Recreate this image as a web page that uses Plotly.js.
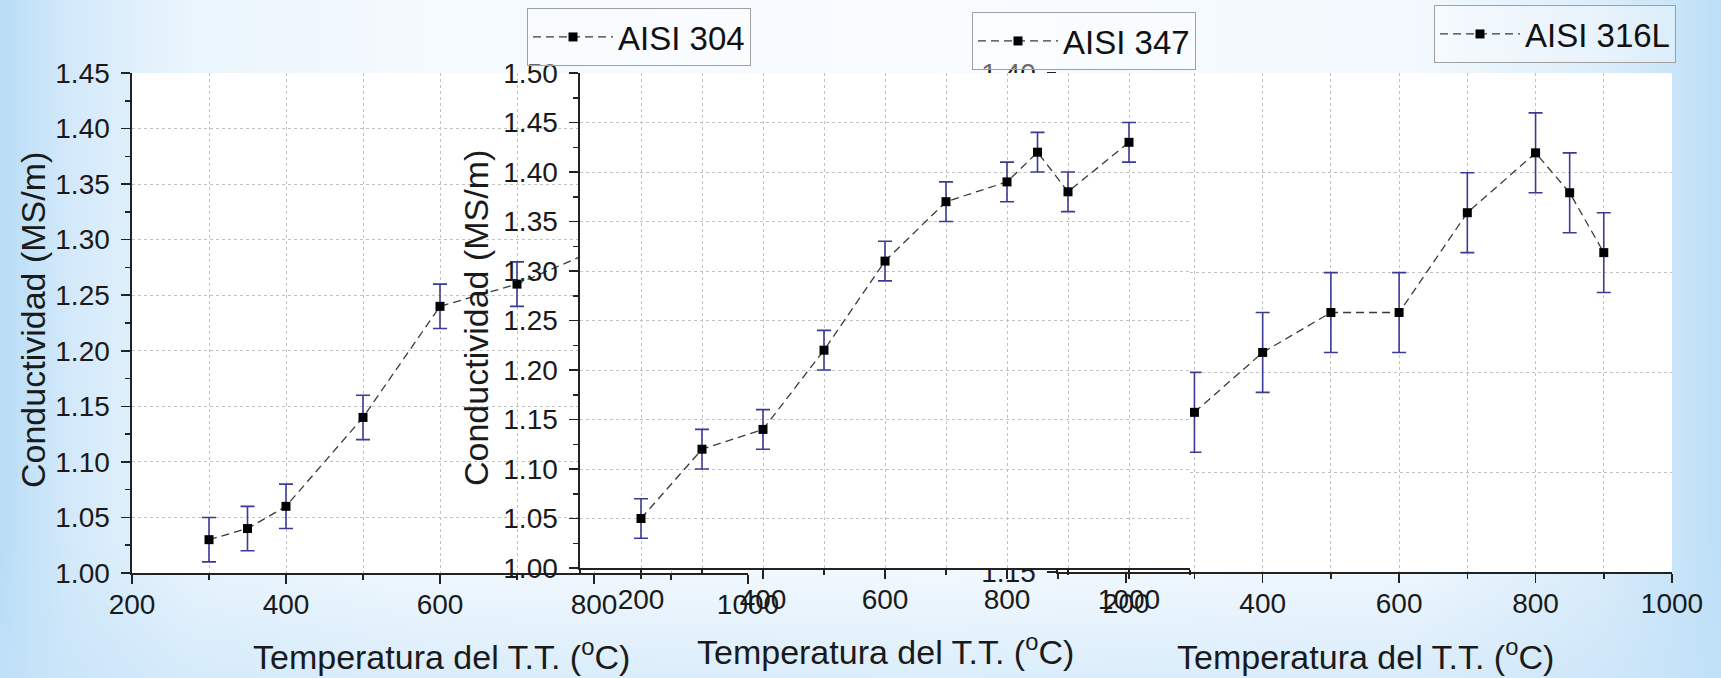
<!DOCTYPE html>
<html>
<head>
<meta charset="utf-8">
<script src="https://cdn.plot.ly/plotly-3.0.1.min.js"></script>
<style>
html,body{margin:0;padding:0;}
body{width:1721px;height:678px;overflow:hidden;
background:
 linear-gradient(180deg, rgba(255,255,255,0) 80%, rgba(196,226,248,0.55) 100%),
 linear-gradient(90deg,#b8ddf7 0%,#d3e9fa 4%,#eaf5fd 11%,#f5fafe 25%,#f8fbff 55%,#f3f9fe 82%,#dcedfa 93%,#bcdff7 100%);}
#chart{width:1721px;height:678px;}
</style>
</head>
<body>
<div id="chart"></div>
<script>
// ---- data ----
const seriesNames = ['AISI 304', 'AISI 347', 'AISI 316L'];

const temp304 = [300, 350, 400, 500, 600, 700, 800];
const cond304 = [1.03, 1.04, 1.06, 1.14, 1.24, 1.26, 1.29];
const err304  = [0.02, 0.02, 0.02, 0.02, 0.02, 0.02, 0.02];

const temp347 = [200, 300, 400, 500, 600, 700, 800, 850, 900, 1000];
const cond347 = [1.05, 1.12, 1.14, 1.22, 1.31, 1.37, 1.39, 1.42, 1.38, 1.43];
const err347  = [0.02, 0.02, 0.02, 0.02, 0.02, 0.02, 0.02, 0.02, 0.02, 0.02];

const temp316L = [300, 400, 500, 600, 700, 800, 850, 900];
const cond316L = [1.23, 1.26, 1.28, 1.28, 1.33, 1.36, 1.34, 1.31];
const err316L  = [0.02, 0.02, 0.02, 0.02, 0.02, 0.02, 0.02, 0.02];

const xTitle = 'Temperatura del T.T. (<sup>o</sup>C)';
const yTitle = 'Conductividad (MS/m)';

// ---- layout helpers ----
const W = 1721, H = 678;
const fx = px => px / W;
const fy = py => 1 - py / H;
const FONT = 'Liberation Sans, Arial, sans-serif';
const INK = '#1a1a1a';
const AX = '#222222';
const GRID = '#c2c2c2';
const ERR = '#3b3b95';
const TICKSIZE = 28;

function lineTrace(x, y, e, name, xa, ya, legend) {
  return {
    x: x, y: y, name: name, type: 'scatter', mode: 'lines+markers',
    xaxis: xa, yaxis: ya, legend: legend,
    line: {color: '#3a3a3a', width: 1.3, dash: '8px,5px'},
    marker: {symbol: 'square', size: 9, color: '#000000'},
    error_y: {type: 'data', array: e, visible: true, color: ERR, thickness: 1.6, width: 7},
    hoverinfo: 'skip'
  };
}

function mainX(p, anchor) {
  return {
    domain: [fx(p.x0), fx(p.x1)], range: p.xr, anchor: anchor,
    tick0: 200, dtick: 200, ticks: 'outside', ticklen: 9, tickwidth: 1.5, tickcolor: AX,
    minor: {dtick: 100, ticks: 'outside', ticklen: 5, tickwidth: 1.5, tickcolor: AX,
            showgrid: true, gridcolor: GRID, gridwidth: 1, griddash: '3px,3px'},
    showgrid: true, gridcolor: GRID, gridwidth: 1, griddash: '3px,3px',
    showline: true, linecolor: AX, linewidth: 1.6, zeroline: false,
    tickfont: {family: FONT, size: TICKSIZE, color: INK}, ticklabelstandoff: -3,
    fixedrange: true
  };
}
function mainY(p, anchor) {
  return {
    domain: [fy(p.y1), fy(p.y0)], range: p.yr, anchor: anchor,
    tick0: p.yr[0], dtick: 0.05, tickformat: '.2f',
    ticks: 'outside', ticklen: 9, tickwidth: 1.5, tickcolor: AX,
    minor: {dtick: 0.025, ticks: 'outside', ticklen: 5, tickwidth: 1.5, tickcolor: AX, showgrid: false},
    showgrid: true, gridcolor: GRID, gridwidth: 1, griddash: 'dot',
    showline: true, linecolor: AX, linewidth: 1.6, zeroline: false,
    tickfont: {family: FONT, size: TICKSIZE, color: INK}, ticklabelstandoff: 6,
    fixedrange: true
  };
}
function topX(p, over, anchor) {
  return {
    overlaying: over, side: 'top', anchor: anchor, range: p.xr,
    tick0: 200, dtick: 200, ticks: 'inside', ticklen: 9, tickwidth: 1.5, tickcolor: AX,
    minor: {dtick: 100, ticks: 'inside', ticklen: 5, tickwidth: 1.5, tickcolor: AX, showgrid: false},
    showticklabels: false, showgrid: false, showline: true, linecolor: AX, linewidth: 1.6,
    zeroline: false, fixedrange: true
  };
}
function rightY(p, over, anchor) {
  return {
    overlaying: over, side: 'right', anchor: anchor, range: p.yr,
    tick0: p.yr[0], dtick: 0.05, ticks: 'inside', ticklen: 9, tickwidth: 1.5, tickcolor: AX,
    minor: {dtick: 0.025, ticks: 'inside', ticklen: 5, tickwidth: 1.5, tickcolor: AX, showgrid: false},
    showticklabels: false, showgrid: false, showline: true, linecolor: AX, linewidth: 1.6,
    zeroline: false, fixedrange: true
  };
}

// panel boxes in pixels (plot areas)
const P1 = {x0: 132,  x1: 748,  y0: 73, y1: 573, xr: [200, 1000], yr: [1.00, 1.45]}; // AISI 304  -> x / y
const P3 = {x0: 1058, x1: 1672, y0: 73, y1: 572, xr: [100, 1000], yr: [1.15, 1.40]}; // AISI 316L -> x2 / y2
const P2 = {x0: 580,  x1: 1190, y0: 73, y1: 568, xr: [100, 1100], yr: [1.00, 1.50]}; // AISI 347  -> x3 / y3 (on top)

const data = [
  lineTrace(temp304, cond304, err304, seriesNames[0], 'x', 'y', 'legend'),
  lineTrace(temp316L, cond316L, err316L, seriesNames[2], 'x2', 'y2', 'legend3'),
  lineTrace(temp347, cond347, err347, seriesNames[1], 'x3', 'y3', 'legend2')
];

function legendBox(px, py) {
  return {
    x: fx(px), y: fy(py), xanchor: 'left', yanchor: 'top',
    bgcolor: 'rgba(255,255,255,0.35)', bordercolor: '#a0a0a0', borderwidth: 1,
    font: {family: FONT, size: 33, color: '#111111'}, itemwidth: 80
  };
}
function ann(text, px, py, angle) {
  return {
    text: text, xref: 'paper', yref: 'paper', x: fx(px), y: fy(py),
    xanchor: 'center', yanchor: 'middle', showarrow: false, textangle: angle || 0,
    font: {family: FONT, size: 34, color: INK}
  };
}

const layout = {
  width: W, height: H, autosize: false,
  margin: {l: 0, r: 0, t: 0, b: 0, pad: 0},
  paper_bgcolor: 'rgba(0,0,0,0)', plot_bgcolor: '#ffffff',
  font: {family: FONT, color: INK},
  xaxis: mainX(P1, 'y'),   yaxis: mainY(P1, 'x'),
  xaxis2: mainX(P3, 'y2'), yaxis2: mainY(P3, 'x2'),
  xaxis3: mainX(P2, 'y3'), yaxis3: mainY(P2, 'x3'),
  xaxis4: topX(P1, 'x', 'y'),   yaxis4: rightY(P1, 'y', 'x'),
  xaxis5: topX(P3, 'x2', 'y2'), yaxis5: rightY(P3, 'y2', 'x2'),
  xaxis6: topX(P2, 'x3', 'y3'), yaxis6: rightY(P2, 'y3', 'x3'),
  legend: legendBox(527, 8),
  legend2: legendBox(972, 12),
  legend3: legendBox(1434, 5),
  showlegend: true,
  annotations: [
    ann(xTitle, 441, 654),
    ann(xTitle, 885, 649),
    ann(xTitle, 1365, 654),
    ann(yTitle, 33, 320, -90),
    ann(yTitle, 476, 318, -90)
  ]
};

Plotly.newPlot('chart', data, layout, {displayModeBar: false, staticPlot: true});
</script>
</body>
</html>
